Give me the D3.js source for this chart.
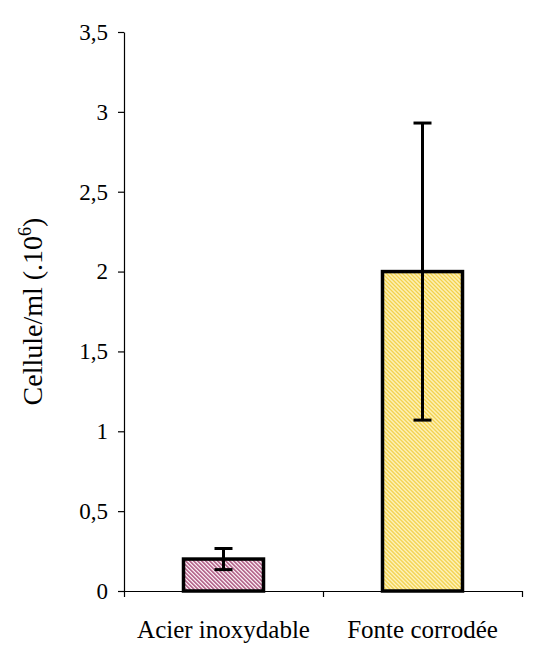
<!DOCTYPE html>
<html>
<head>
<meta charset="utf-8">
<script src="https://cdn.jsdelivr.net/npm/d3@7"></script>
<style>
  body { margin: 0; background: #fff; font-family: 'Liberation Serif', serif; }
</style>
</head>
<body>
<div id="chart"></div>
<script>
const categories = ['Acier inoxydable', 'Fonte corrodée'];
const values = [0.2, 2.0];
const errors = [0.066, 0.93];
const yTicks = [0, 0.5, 1, 1.5, 2, 2.5, 3, 3.5];

const width = 541;
const height = 648;
const margin = {top: 32, right: 19, bottom: 57, left: 124};
const barWidth = 80;
const serif = "'Liberation Serif', serif";

const svg = d3.select('#chart').append('svg')
  .attr('width', width)
  .attr('height', height)
  .style('font-family', serif);

// hatch patterns, lines going down to the right
const defs = svg.append('defs');
const hatches = [
  {id: 'hatch0', bg: '#fdf2f7', line: '#9c3a6a'},
  {id: 'hatch1', bg: '#fff5c4', line: '#f0cc3c'}
];
hatches.forEach(h => {
  const p = defs.append('pattern')
    .attr('id', h.id)
    .attr('patternUnits', 'userSpaceOnUse')
    .attr('width', 2.83)
    .attr('height', 2.83)
    .attr('patternTransform', 'rotate(-45)');
  p.append('rect').attr('width', 2.83).attr('height', 2.83).attr('fill', h.bg);
  p.append('rect').attr('width', 1.3).attr('height', 2.83).attr('fill', h.line);
});

const x = d3.scaleBand()
  .domain(categories)
  .range([margin.left, width - margin.right]);
const y = d3.scaleLinear()
  .domain([0, 3.5])
  .range([height - margin.bottom, margin.top]);

// y axis
const yAxis = svg.append('g')
  .attr('transform', `translate(${margin.left},0)`)
  .call(d3.axisLeft(y).tickValues(yTicks).tickSize(6).tickSizeOuter(0).tickPadding(10)
    .tickFormat(d => String(d).replace('.', ',')));
yAxis.attr('font-family', null).attr('font-size', null);
yAxis.selectAll('text').style('font-family', serif).style('font-size', '23px').attr('fill', '#000');
yAxis.selectAll('line, path').attr('stroke', '#000').attr('stroke-width', 1.2);

// x axis, ticks at the category boundaries
const xEdge = d3.scaleLinear().domain([0, categories.length]).range(x.range());
const xAxis = svg.append('g')
  .attr('transform', `translate(0,${y(0)})`)
  .call(d3.axisBottom(xEdge).tickValues(d3.range(categories.length + 1)).tickSize(6)
    .tickSizeOuter(0).tickFormat(''));
xAxis.selectAll('line, path').attr('stroke', '#000').attr('stroke-width', 1.2);

const xLabels = svg.append('g')
  .attr('transform', `translate(0,${y(0)})`)
  .call(d3.axisBottom(x).tickSize(0).tickPadding(29));
xLabels.attr('font-family', null).attr('font-size', null);
xLabels.select('.domain').remove();
xLabels.selectAll('text').style('font-family', serif).style('font-size', '25px').attr('fill', '#000');

// bars
const data = categories.map((c, i) => ({cat: c, value: values[i], err: errors[i], i}));
svg.append('g').selectAll('rect').data(data).enter()
  .append('rect')
  .attr('x', d => x(d.cat) + (x.bandwidth() - barWidth) / 2)
  .attr('y', d => y(d.value))
  .attr('width', barWidth)
  .attr('height', d => y(0) - y(d.value))
  .attr('fill', d => `url(#hatch${d.i})`)
  .attr('stroke', '#000')
  .attr('stroke-width', 3.5);

// error bars
const capW = 9;
const eb = svg.append('g').attr('stroke', '#000').attr('stroke-width', 3);
data.forEach(d => {
  const cx = x(d.cat) + x.bandwidth() / 2;
  eb.append('line').attr('x1', cx).attr('x2', cx)
    .attr('y1', y(d.value + d.err)).attr('y2', y(d.value - d.err));
  [d.value + d.err, d.value - d.err].forEach(v => {
    eb.append('line').attr('x1', cx - capW).attr('x2', cx + capW)
      .attr('y1', y(v)).attr('y2', y(v));
  });
});

// y label
const yl = svg.append('text')
  .attr('transform', `translate(42,${(y(0) + y(3.5)) / 2}) rotate(-90)`)
  .attr('text-anchor', 'middle')
  .style('font-family', serif)
  .style('font-size', '28px');
yl.append('tspan').text('Cellule/ml (.10');
yl.append('tspan').style('font-size', '18px').attr('dy', -11).text('6');
yl.append('tspan').attr('dy', 11).text(')');
</script>
</body>
</html>
